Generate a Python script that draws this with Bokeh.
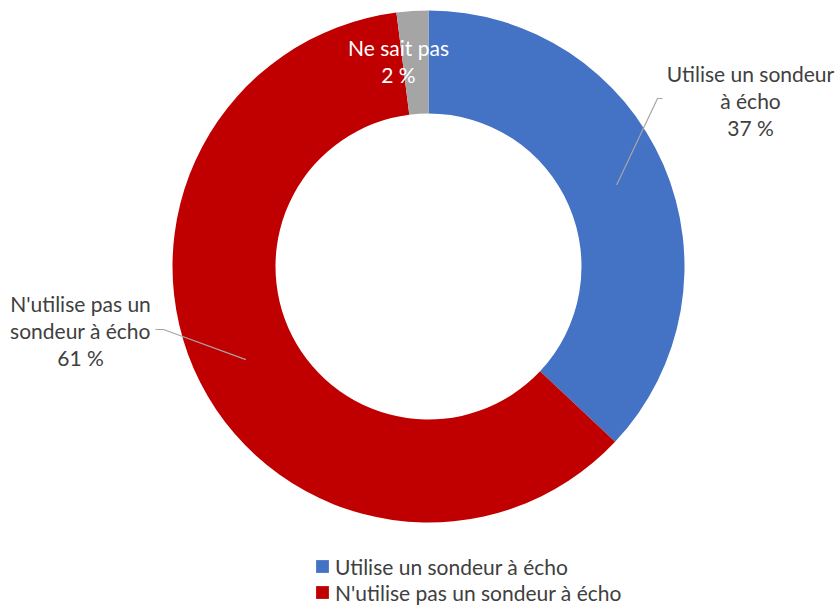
import numpy as np
from bokeh.plotting import figure
from bokeh.models import Range1d, ColumnDataSource, Legend, LegendItem
from bokeh.core.properties import value
from bokeh.embed import file_html
from bokeh.resources import INLINE

categories = ["Utilise un sondeur à écho", "N'utilise pas un sondeur à écho", "Ne sait pas"]
values = [37, 61, 2]
colors = ["#4472C4", "#C00000", "#A5A5A5"]
label_texts = ["Utilise un sondeur\nà écho\n37 %", "N'utilise pas un\nsondeur à écho\n61 %", "Ne sait pas\n2 %"]

FONT = "Lato"
W, H = 837, 606
CX, CY = 428, -266
R_OUT, R_IN = 256, 153

p = figure(width=W, height=H, output_backend="svg", toolbar_location=None,
           x_range=Range1d(0, W), y_range=Range1d(-H, 0),
           min_border=0, outline_line_color=None)
p.axis.visible = False
p.grid.visible = False
p.background_fill_color = "white"
p.border_fill_color = "white"

vals = np.array(values, dtype=float)
frac = vals / vals.sum()
cum = np.concatenate([[0], np.cumsum(frac)])
start = np.pi / 2 - cum[:-1] * 2 * np.pi
end = np.pi / 2 - cum[1:] * 2 * np.pi
mid = (start + end) / 2

src = ColumnDataSource(dict(x=[CX] * 3, y=[CY] * 3, start=start, end=end, color=colors, cat=categories))
r = p.annular_wedge(x="x", y="y", inner_radius=R_IN, outer_radius=R_OUT,
                    start_angle="start", end_angle="end", direction="clock",
                    fill_color="color", line_color=None, source=src)

# leader lines
R_LEAD = 205
bx, by = CX + R_LEAD * np.cos(mid[0]), CY + R_LEAD * np.sin(mid[0])
p.line([bx, 657, 662], [by, -98, -98], line_color="#A6A6A6", line_width=1.2)
rx, ry = CX + R_LEAD * np.cos(mid[1]), CY + R_LEAD * np.sin(mid[1])
p.line([rx, 163, 155], [ry, -329, -329], line_color="#A6A6A6", line_width=1.2)

# data labels
lab = ColumnDataSource(dict(x=[750, 80, 398], y=[-100, -330, -60], t=label_texts,
                            c=["#404040", "#404040", "#FFFFFF"]))
p.text(x="x", y="y", text="t", source=lab, text_color="c", text_align="center",
       text_baseline="middle", text_font=value(FONT), text_font_size="21px",
       text_line_height=1.08)

legend = Legend(items=[LegendItem(label=categories[0], renderers=[r], index=0),
                       LegendItem(label=categories[1], renderers=[r], index=1)],
                location=(314, 1), orientation="vertical",
                label_text_font=FONT, label_text_font_size="21px", label_text_color="#404040",
                glyph_width=16, glyph_height=16, label_height=26, spacing=0,
                padding=0, margin=0, border_line_color=None, background_fill_alpha=0,
                label_standoff=5)
p.add_layout(legend)

open("out.html", "w").write(file_html(p, INLINE))
